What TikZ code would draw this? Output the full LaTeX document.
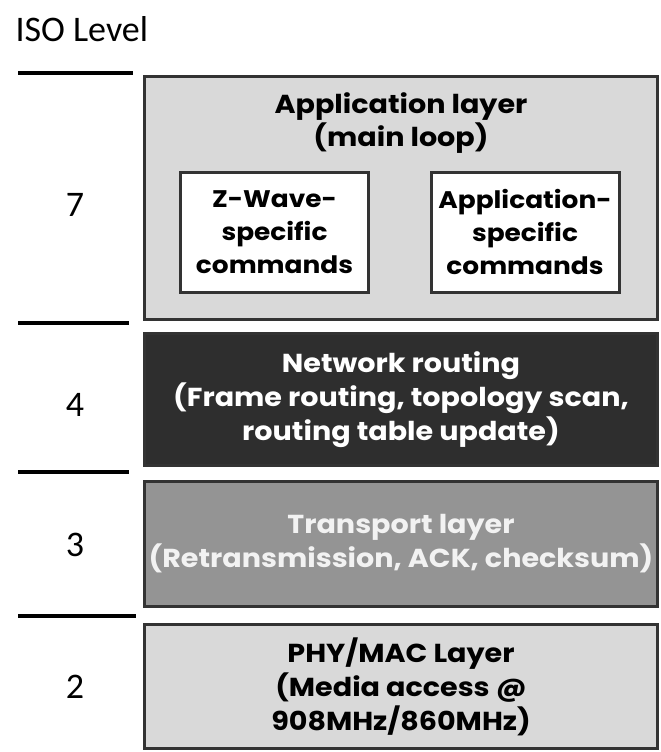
\documentclass[tikz,border=0pt]{standalone}
\usepackage{fontspec}
\setmainfont{Carlito}
\newfontfamily\geofont{Poppins}[FakeStretch=1.1]
\usetikzlibrary{positioning}

\definecolor{applight}{gray}{0.85}
\definecolor{netdark}{gray}{0.18}
\definecolor{transmid}{gray}{0.58}
\definecolor{edgegray}{gray}{0.2}

\begin{document}
\begin{tikzpicture}[
    x=1pt, y=-1pt,
    layertext/.style={inner sep=0pt, align=center, font=\geofont\bfseries\fontsize{26}{34}\selectfont},
    layer/.style={layertext, draw=edgegray, line width=3pt, minimum width=513pt},
    cmdbox/.style={draw=edgegray, line width=3pt, fill=white, minimum width=188pt, minimum height=120pt,
      inner sep=0pt, align=center, font=\geofont\bfseries\fontsize{24}{33}\selectfont},
    level/.style={font=\fontsize{36}{36}\selectfont},
    sep/.style={line width=4.5pt}
  ]
  \useasboundingbox (0,0) rectangle (661,752);

  \node[level, anchor=base west] (iso) at (12,42) {ISO Level};

  % layers
  \node[layer, fill=applight, minimum height=243pt] (app) at (401,198) {};
  \node[layertext, font=\geofont\bfseries\fontsize{26}{33}\selectfont] (apptitle) at (401,123) {Application layer\\(main loop)};
  \node[cmdbox] (zwave) at (274.5,232) {Z-Wave-\\specific\\commands};
  \node[cmdbox] (appcmd) at (525,232) {Application-\\specific\\commands};

  \node[layer, fill=netdark, text=white, minimum height=132pt] (net) at (401,399.5)
    {Network routing\\(Frame routing, topology scan,\\routing table update)};
  \node[layer, fill=transmid, text=white!95!black, minimum height=125pt] (trans) at (401,544)
    {Transport layer\\(Retransmission, ACK, checksum)};
  \node[layer, fill=applight, minimum height=124pt] (phy) at (401,686.5)
    {PHY/MAC Layer\\(Media access @\\908MHz/860MHz)};

  % ISO levels
  \node[level] (l7) at (75,205) {7};
  \node[level] (l4) at (75,405) {4};
  \node[level] (l3) at (75,545) {3};
  \node[level] (l2) at (75,687) {2};

  \draw[sep] (18,73) -- (133,73);
  \draw[sep] (18,323) -- (129,323);
  \draw[sep] (18,472) -- (129,472);
  \draw[sep] (18,616) -- (136,616);
\end{tikzpicture}
\end{document}
